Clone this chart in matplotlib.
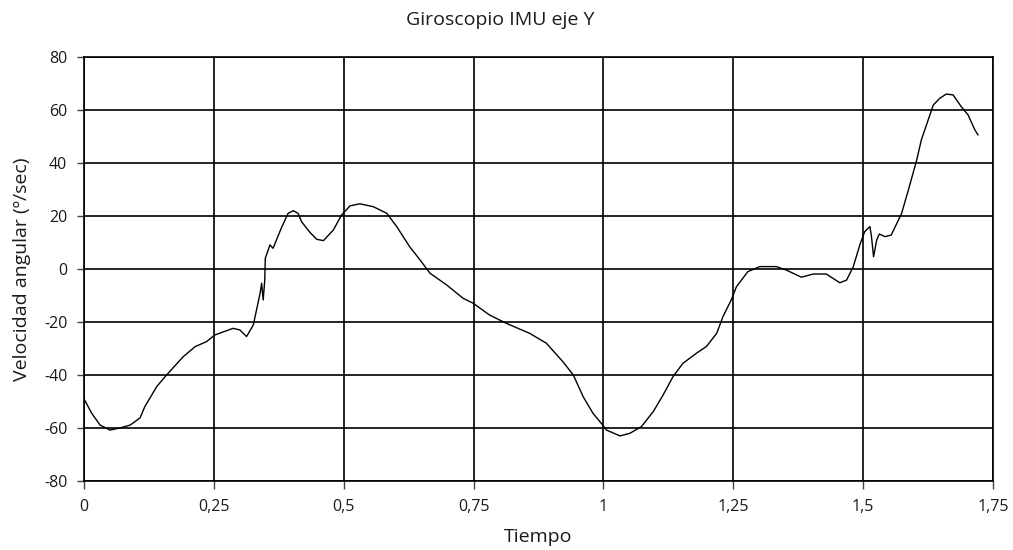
import matplotlib
matplotlib.use("Agg")
import matplotlib.pyplot as plt

plt.rcParams['font.family'] = ['Open Sans', 'DejaVu Sans']
plt.rcParams['axes.unicode_minus'] = False

# Gyroscope Y-axis angular velocity samples (time in s, rate in deg/s)
tiempo = [0.000, 0.015, 0.031, 0.050, 0.069, 0.089, 0.108, 0.117, 0.140, 0.159, 0.191,
          0.214, 0.236, 0.252, 0.287, 0.300, 0.313, 0.326, 0.339, 0.342, 0.345,
          0.348, 0.349, 0.358, 0.364, 0.380, 0.393, 0.403, 0.412, 0.419, 0.435, 0.448, 0.461,
          0.480, 0.496, 0.512, 0.531, 0.557, 0.583, 0.602, 0.627, 0.647, 0.666,
          0.698, 0.730, 0.749, 0.781, 0.813, 0.858, 0.890, 0.922, 0.942, 0.961,
          0.980, 0.999, 1.006, 1.032, 1.051, 1.073, 1.096, 1.115, 1.134, 1.153,
          1.179, 1.198, 1.218, 1.230, 1.246, 1.256, 1.278, 1.301, 1.333, 1.352,
          1.381, 1.404, 1.429, 1.455, 1.468, 1.481, 1.494, 1.503, 1.513, 1.516,
          1.520, 1.526, 1.531, 1.542, 1.554, 1.574, 1.587, 1.603, 1.612, 1.635,
          1.648, 1.660, 1.673, 1.689, 1.702, 1.715, 1.721]
velocidad = [-49.0, -54.5, -58.9, -60.8, -60.0, -58.9, -56.2, -52.0, -44.4, -40.0, -33.1,
             -29.3, -27.4, -24.9, -22.4, -23.0, -25.5, -21.1, -9.2, -5.4, -11.7,
             -4.2, 4.0, 9.1, 7.8, 15.5, 21.0, 22.0, 21.0, 17.8, 13.8, 11.2, 10.7,
             14.7, 20.4, 23.8, 24.6, 23.5, 21.0, 16.0, 8.4, 3.4, -1.6,
             -6.0, -11.1, -12.9, -17.4, -20.5, -24.3, -28.0, -35.0, -40.0, -48.2,
             -54.5, -59.0, -60.8, -63.0, -62.0, -59.5, -53.8, -47.5, -40.6, -35.6,
             -31.8, -29.3, -24.3, -18.0, -11.7, -6.7, -1.0, 0.9, 0.9, -0.4,
             -3.1, -1.9, -1.9, -5.2, -4.2, 0.9, 9.4, 14.1, 16.0, 12.2,
             4.6, 10.9, 13.2, 12.2, 12.8, 21.0, 29.8, 41.1, 48.7, 61.9,
             64.5, 66.0, 65.7, 61.2, 58.1, 52.5, 50.6]

x_ticks = [0, 0.25, 0.5, 0.75, 1, 1.25, 1.5, 1.75]
x_tick_labels = ["0", "0,25", "0,5", "0,75", "1", "1,25", "1,5", "1,75"]
y_ticks = [-80, -60, -40, -20, 0, 20, 40, 60, 80]

text_color = '#1a1a1a'

fig = plt.figure(figsize=(10.13, 5.5), dpi=100)
ax = fig.add_axes([0.0829, 0.1255, 0.8974, 0.7709])

ax.plot(tiempo, velocidad, color='black', linewidth=1.0, zorder=3)

ax.set_xlim(0, 1.75)
ax.set_ylim(-80, 80)
ax.set_xticks(x_ticks)
ax.set_xticklabels(x_tick_labels)
ax.set_yticks(y_ticks)

ax.grid(True, color='black', linewidth=1.2)
for s in ax.spines.values():
    s.set_color('black')
    s.set_linewidth(1.2)

ax.tick_params(axis='both', labelsize=11.5, color='#444444', width=1.0,
               labelcolor=text_color)
ax.tick_params(axis='x', length=6, pad=7)
ax.tick_params(axis='y', length=5, pad=7)

fig.text(0.494, 1 - 20 / 550, "Giroscopio IMU eje Y", fontsize=14,
         ha='center', va='center', color=text_color)

ax.set_xlabel("Tiempo", fontsize=14, color=text_color, va='center')
ax.xaxis.set_label_coords(0.5, -0.132)
ax.set_ylabel("Velocidad angular (º/sec)", fontsize=14, color=text_color,
              va='center', ha='center')
ax.yaxis.set_label_coords(-0.068, 0.5)

fig.savefig("out.png", dpi=100)
